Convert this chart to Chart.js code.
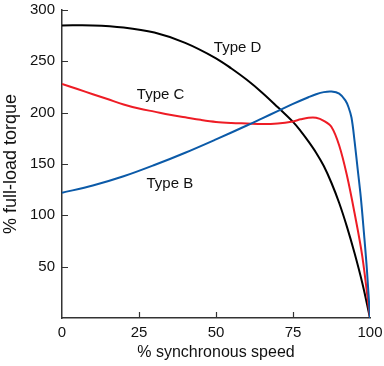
<!DOCTYPE html>
<html>
<head>
<meta charset="utf-8">
<script src="https://cdn.jsdelivr.net/npm/chart.js@4/dist/chart.umd.min.js"></script>
<style>
  html, body { margin: 0; padding: 0; background: #fff; }
  #wrap { width: 384px; height: 366px; position: relative; }
</style>
</head>
<body>
<div id="wrap"><canvas id="torque"></canvas></div>
<script>
// % synchronous speed / % full-load torque
var speedB  = [0, 10, 20, 30, 40, 50, 60, 65, 70, 75, 80, 82.5, 85, 87.5, 90, 92, 93, 94, 95, 96, 97, 98, 99, 100];
var torqueB = [122, 129, 138, 149, 161, 174, 187.5, 194.5, 201.5, 208.5, 215, 218, 220, 220.5, 218.5, 212, 205.5, 195, 172, 145, 118, 84, 47, 0];

var speedC  = [0, 5, 10, 15, 20, 25, 30, 35, 40, 45, 50, 55, 60, 65, 70, 75, 77.5, 80, 82.5, 85, 87.5, 90, 92.5, 95, 97.5, 100];
var torqueC = [228, 223, 218, 213, 208, 204, 201, 198, 195.5, 193, 191, 190, 189.5, 189, 189.5, 191.5, 193.5, 195, 195, 192, 186, 168, 139, 102, 60, 0];

var speedD  = [0, 10, 20, 30, 40, 50, 55, 60, 65, 70, 75, 77.5, 80, 82.5, 85, 87.5, 90, 92.5, 95, 97.5, 100];
var torqueD = [285, 285, 283, 278, 268, 253, 243, 232, 219.5, 205.5, 191, 182, 172, 161, 148, 131.5, 112, 89, 63, 34, 0];

var seriesNames = ['Type B', 'Type C', 'Type D'];
var seriesColors = ['#0b5aa8', '#ee1c25', '#000000'];
// where each curve's name sits, in data units
var labelSpots = [[35, 131], [32, 217], [57, 263]];

var xTicks = [0, 25, 50, 75, 100];
var yTicks = [50, 100, 150, 200, 250, 300];

function pts (xs, ys) {
	var out = [];
	for (var i = 0; i < xs.length; i++) out.push({x: xs[i], y: ys[i]});
	return out;
}

var textColor = '#111';
var axisColor = '#333';

// short tick marks drawn inside the plot, plus the curve names
var insideTicks = {
	id: 'insideTicks',
	afterDraw: function (chart) {
		var ctx = chart.ctx, xs = chart.scales.x, ys = chart.scales.y;
		ctx.save();
		ctx.strokeStyle = axisColor;
		ctx.lineWidth = 1.2;
		ctx.beginPath();
		yTicks.forEach(function (v) {
			var py = Math.round(ys.getPixelForValue(v)) + 0.5;
			ctx.moveTo(xs.left, py);
			ctx.lineTo(xs.left + 6, py);
		});
		xTicks.slice(1, -1).forEach(function (v) {
			var px = Math.round(xs.getPixelForValue(v)) + 0.5;
			ctx.moveTo(px, ys.bottom);
			ctx.lineTo(px, ys.bottom - 6);
		});
		ctx.stroke();

		ctx.fillStyle = textColor;
		ctx.font = '15px "Liberation Sans", Arial, sans-serif';
		ctx.textAlign = 'center';
		ctx.textBaseline = 'middle';
		seriesNames.forEach(function (name, i) {
			ctx.fillText(name, xs.getPixelForValue(labelSpots[i][0]), ys.getPixelForValue(labelSpots[i][1]));
		});
		ctx.restore();
	}
};

var speeds = [speedB, speedC, speedD];
var torques = [torqueB, torqueC, torqueD];
var datasets = [];
for (var i = 0; i < seriesNames.length; i++) {
	datasets.push({
		label: seriesNames[i],
		data: pts(speeds[i], torques[i]),
		borderColor: seriesColors[i],
		borderWidth: 2,
		pointRadius: 0,
		fill: false,
		tension: 0.35
	});
}

Chart.defaults.font.family = '"Liberation Sans", Arial, sans-serif';
Chart.defaults.color = textColor;

new Chart(document.getElementById('torque').getContext('2d'), {
	type: 'line',
	data: { datasets: datasets },
	plugins: [insideTicks],
	options: {
		responsive: true,
		maintainAspectRatio: false,
		animation: false,
		layout: { padding: { top: 10, right: 14, left: 0, bottom: 0 } },
		plugins: {
			legend: { display: false },
			tooltip: { enabled: false }
		},
		scales: {
			x: {
				type: 'linear',
				min: 0,
				max: 100,
				afterBuildTicks: function (s) { s.ticks = xTicks.map(function (v) { return {value: v}; }); },
				// outer ticks kept invisible, they only space the labels
				grid: { drawOnChartArea: false, drawTicks: true, tickLength: 6, color: 'rgba(0,0,0,0)' },
				border: { color: axisColor, width: 1.5 },
				ticks: { padding: 0, font: { size: 15 }, color: textColor },
				title: { display: true, text: '% synchronous speed', font: { size: 16 }, color: textColor, padding: { top: 4, bottom: 4 } },
				afterFit: function (s) { s.height = 48; }
			},
			y: {
				type: 'linear',
				min: 0,
				max: 300,
				afterBuildTicks: function (s) { s.ticks = yTicks.map(function (v) { return {value: v}; }); },
				grid: { drawOnChartArea: false, drawTicks: true, tickLength: 7, color: 'rgba(0,0,0,0)' },
				border: { color: axisColor, width: 1.5 },
				ticks: { padding: 0, font: { size: 15 }, color: textColor },
				title: { display: true, text: '% full-load torque', font: { size: 18 }, color: textColor, padding: { top: 0, bottom: 2 } },
				afterFit: function (s) { s.width = 62; }
			}
		}
	}
});
</script>
</body>
</html>
